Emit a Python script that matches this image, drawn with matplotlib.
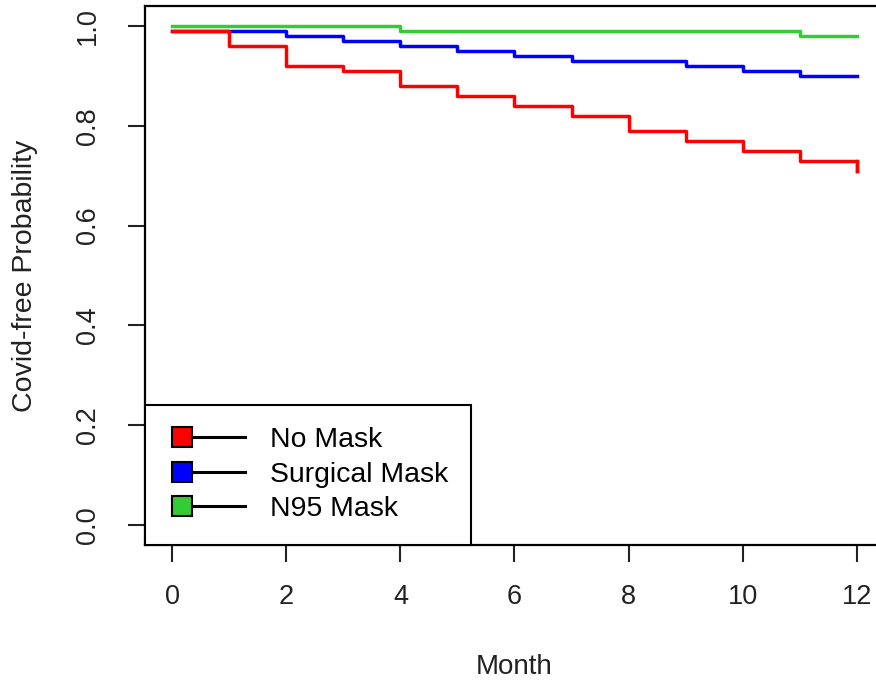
import matplotlib
matplotlib.use("Agg")
import matplotlib.pyplot as plt
from matplotlib.lines import Line2D
from matplotlib.legend_handler import HandlerBase

plt.rcParams['font.family'] = ['Liberation Sans', 'DejaVu Sans']

# step data: month of each step and covid-free probability from that month on
months_none = [0, 1, 2, 3, 4, 5, 6, 7, 8, 9, 10, 11, 12]
surv_none = [0.99, 0.96, 0.92, 0.91, 0.88, 0.86, 0.84, 0.82, 0.79, 0.77, 0.75, 0.73, 0.71]

months_surg = [0, 2, 3, 4, 5, 6, 7, 9, 10, 11, 12]
surv_surg = [0.99, 0.98, 0.97, 0.96, 0.95, 0.94, 0.93, 0.92, 0.91, 0.90, 0.90]

months_n95 = [0, 4, 11, 12]
surv_n95 = [1.00, 0.99, 0.98, 0.98]

labels = ['No Mask', 'Surgical Mask', 'N95 Mask']
colors = ['#FF0000', '#0000FF', '#32CD32']
xticks = [0, 2, 4, 6, 8, 10, 12]
yticks = [0.0, 0.2, 0.4, 0.6, 0.8, 1.0]


class LeftBoxHandler(HandlerBase):
    # R style legend key: filled box on the left with a black line after it
    def create_artists(self, legend, orig, xdescent, ydescent, width, height, fontsize, trans):
        y = height / 2 - ydescent
        x0 = -xdescent + 10.4
        ln = Line2D([x0, width - xdescent], [y, y], color='black', lw=2.2)
        mk = Line2D([x0], [y], marker='s', markersize=14, markerfacecolor=orig.get_color(),
                    markeredgecolor='black', markeredgewidth=1.5, ls='none')
        ln.set_transform(trans)
        mk.set_transform(trans)
        return [ln, mk]


fig = plt.figure(figsize=(8.76, 6.85), dpi=100)
ax = fig.add_axes([145/876, 140/685, (884-145)/876, (545-6)/685])

ax.step(months_surg, surv_surg, where='post', color=colors[1], lw=2.5)
ax.step(months_none, surv_none, where='post', color=colors[0], lw=2.5)
ax.step(months_n95, surv_n95, where='post', color=colors[2], lw=2.5)
# final drop at month 12 for no mask
ax.plot([months_none[-1]]*2, [surv_none[-2], surv_none[-1]], color=colors[0], lw=2.5)

ax.set_xlim(-0.48, 12.48)
ax.set_ylim(-0.04, 1.04)
ax.set_xticks(xticks)
ax.set_xticklabels([str(t) for t in xticks])
ax.set_yticks(yticks)
ax.set_yticklabels(['%.1f' % t for t in yticks], rotation=90, va='center')

for s in ax.spines.values():
    s.set_linewidth(1.6)
ax.tick_params(direction='out', length=12, width=1.5, labelsize=19.5, colors='#222222')
ax.tick_params(axis='x', pad=16)
ax.tick_params(axis='y', pad=20)

ax.set_xlabel('Month', fontsize=20, labelpad=32, color='#222222')
ax.set_ylabel('Covid-free Probability', fontsize=20.5, labelpad=26, color='#222222')

handles = [Line2D([], [], color=c) for c in colors]
leg = ax.legend(handles, labels, loc='lower left', bbox_to_anchor=(0, 0), borderaxespad=0,
                fontsize=20.4, handler_map={Line2D: LeftBoxHandler()}, fancybox=False,
                edgecolor='black', framealpha=1, handlelength=2.73, handletextpad=0.88,
                borderpad=0.8, labelspacing=0.3)
leg.get_frame().set_linewidth(1.5)

fig.savefig('out.png', dpi=100)
